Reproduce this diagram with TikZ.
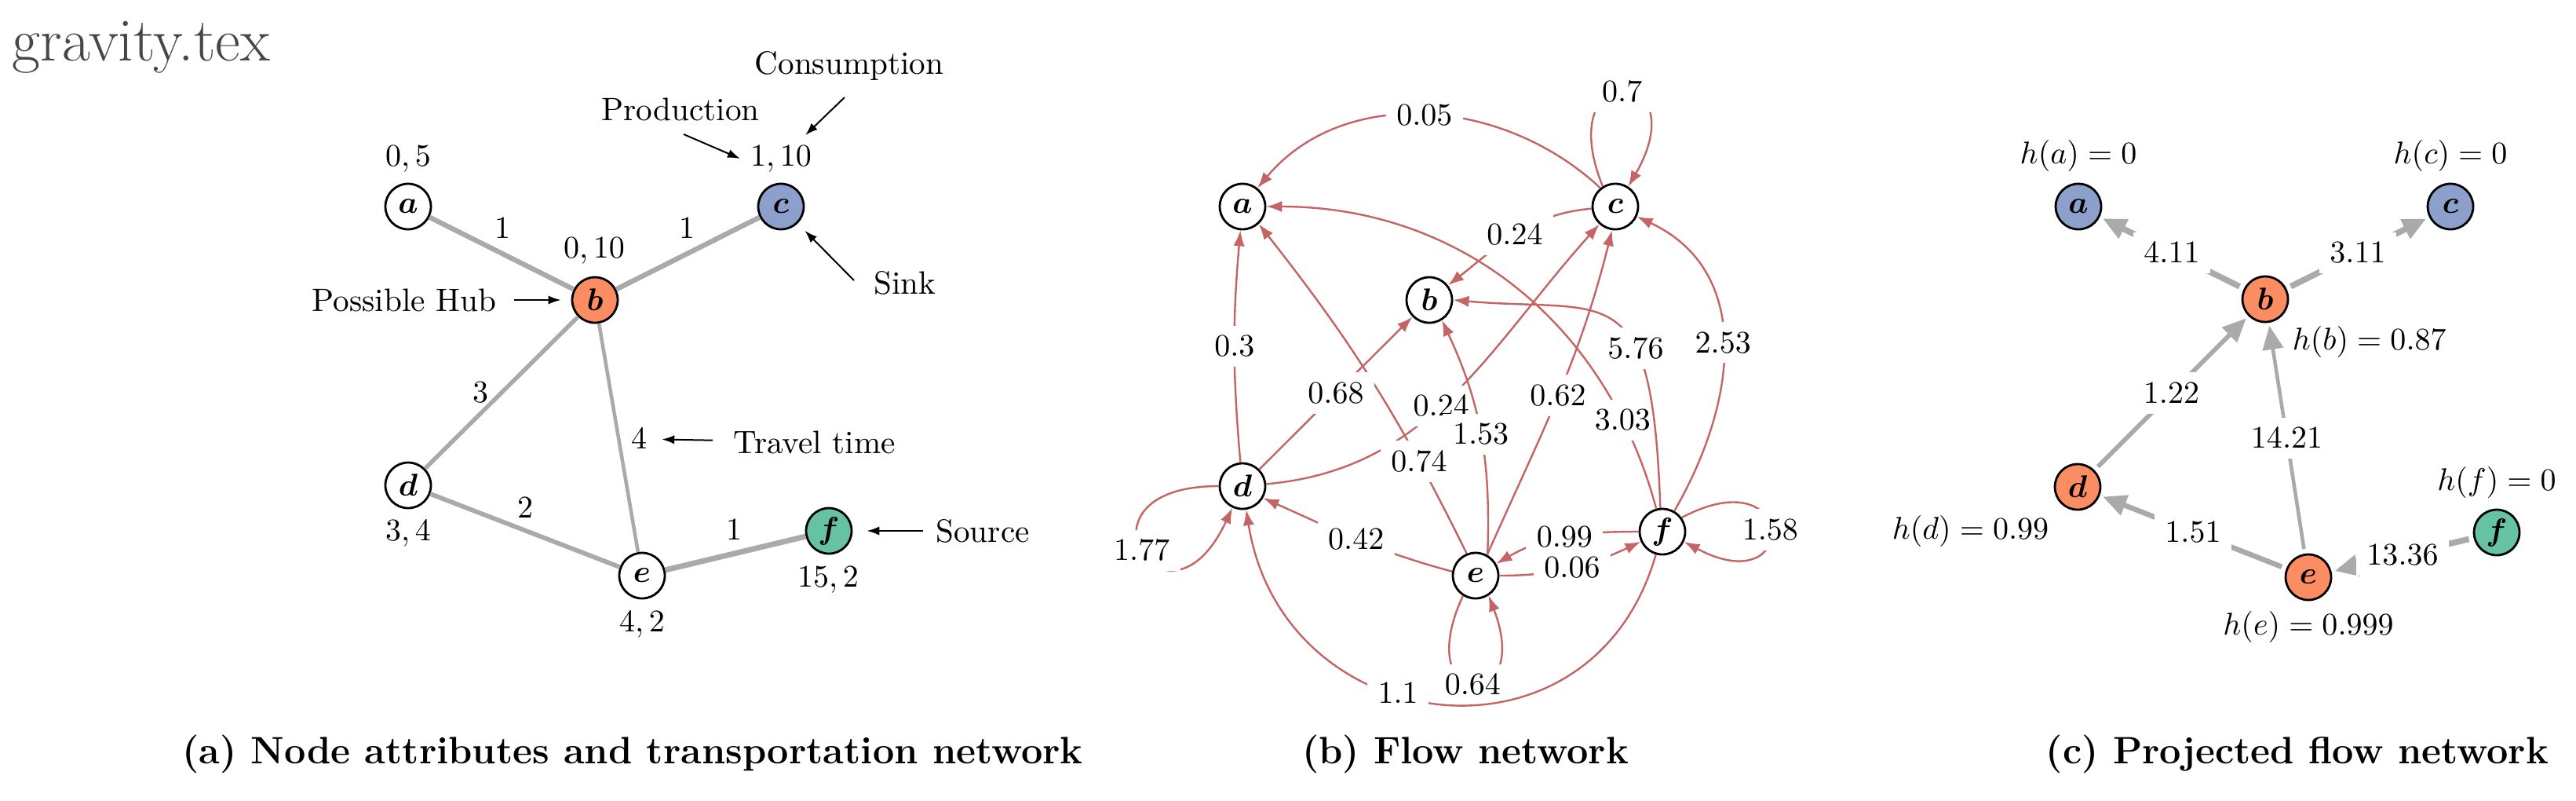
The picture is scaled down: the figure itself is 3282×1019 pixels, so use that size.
\documentclass[tikz,border=0pt]{standalone}
\usepackage{amsmath,bm}
\usetikzlibrary{arrows.meta}
\definecolor{hubor}{HTML}{FC8D62}
\definecolor{sinkbl}{HTML}{8DA0CB}
\definecolor{srcgr}{HTML}{66C2A5}
\definecolor{flowred}{RGB}{196,100,100}
\definecolor{tgray}{RGB}{170,170,170}
\begin{document}
\begin{tikzpicture}[x=0.25pt,y=0.25pt,
  vtx/.style={circle,draw=black,line width=0.7pt,minimum size=14.5pt,inner sep=0pt,fill=white,font=\fontsize{10.3}{12}\selectfont},
  txt/.style={inner sep=1pt,font=\fontsize{10.3}{12}\selectfont},
  elab/.style={fill=white,font=\fontsize{9.7}{11}\selectfont},
  tedge/.style={draw=tgray},
  fedge/.style={draw=flowred,line width=0.6pt,-{Latex[length=5pt,width=3.6pt]}},
  pedge/.style={draw=tgray,-{Triangle[length=7.5pt,width=6.5pt]},shorten >=1pt,shorten <=1.5pt},
  annot/.style={draw=black,line width=0.5pt,-{Latex[length=4pt,width=2.8pt]}},
  captxt/.style={font=\fontsize{12.15}{14}\selectfont\bfseries},
]
\useasboundingbox (0,0) rectangle (3282,-1019);
\fill[white] (0,0) rectangle (3282,-1019);

\node[anchor=base west,inner sep=0pt,text=black!72,font=\fontsize{19.5}{23}\selectfont] (title) at (15,-77) {gravity.tex};

% ---------------- panel (a) ----------------
\node[vtx] (aa) at (520,-263) {$\bm{a}$};
\node[vtx,fill=hubor] (ab) at (758,-382) {$\bm{b}$};
\node[vtx,fill=sinkbl] (ac) at (995,-263) {$\bm{c}$};
\node[vtx] (ad) at (520,-618) {$\bm{d}$};
\node[vtx] (ae) at (818,-733) {$\bm{e}$};
\node[vtx,fill=srcgr] (af) at (1056,-676) {$\bm{f}$};

\draw[tedge,line width=1.6pt] (aa) -- (ab);
\draw[tedge,line width=1.6pt] (ab) -- (ac);
\draw[tedge,line width=1.35pt] (ab) -- (ad);
\draw[tedge,line width=1.15pt] (ab) -- (ae);
\draw[tedge,line width=1.45pt] (ad) -- (ae);
\draw[tedge,line width=1.75pt] (ae) -- (af);

\node[txt] (lab) at (640,-291) {$1$};
\node[txt] (lbc) at (875,-291) {$1$};
\node[txt] (lbd) at (612,-500) {$3$};
\node[txt] (lbe) at (814,-559) {$4$};
\node[txt] (lde) at (669,-647) {$2$};
\node[txt] (lef) at (935,-675) {$1$};

\node[txt] (ata) at (520,-202) {$0,5$};
\node[txt] (atc) at (995,-202) {$1,10$};
\node[txt] (atb) at (757,-319) {$0,10$};
\node[txt] (atd) at (520,-679) {$3,4$};
\node[txt] (ate) at (818,-795) {$4,2$};
\node[txt] (atf) at (1055,-738) {$15,2$};

\node[txt] (tcons) at (1082,-84) {Consumption};
\node[txt] (tprod) at (867,-139) {Production};
\node[txt] (tsink) at (1153,-360) {Sink};
\node[txt] (thub) at (515,-382) {Possible Hub};
\node[txt] (ttravel) at (1038,-563) {Travel time};
\node[txt] (tsource) at (1252,-676) {Source};

\coordinate (consA) at (1076,-124);
\coordinate (prodA) at (871,-171);
\coordinate (prodB) at (943,-202);
\coordinate (sinkA) at (1088,-357);
\draw[annot,shorten >=3pt] (consA) -- (atc);
\draw[annot] (prodA) -- (prodB);
\draw[annot,shorten >=3.2pt] (sinkA) -- (ac);
\draw[annot,shorten <=4.6pt,shorten >=3.25pt] (thub) -- (ab);
\draw[annot,shorten <=5.5pt,shorten >=3.6pt] (ttravel) -- (lbe);
\draw[annot,shorten <=3pt,shorten >=4.5pt] (tsource) -- (af);

% ---------------- panel (b) ----------------
\node[vtx] (ba) at (1583,-263) {$\bm{a}$};
\node[vtx] (bb) at (1821,-382) {$\bm{b}$};
\node[vtx] (bc) at (2058,-263) {$\bm{c}$};
\node[vtx] (bd) at (1583,-619) {$\bm{d}$};
\node[vtx] (be) at (1880,-733) {$\bm{e}$};
\node[vtx] (bf) at (2118,-677) {$\bm{f}$};

\draw[fedge] (bc.129) to[out=137,in=50] node[elab]{$0.05$} (ba.51);
\draw[fedge] (bc.122) to[out=112,in=60,distance=45pt] node[elab]{$0.7$} (bc.57);
\draw[fedge] (bc.185) to[out=185,in=38] node[elab]{$0.24$} (bb.38);
\draw[fedge] (bd.5) to[out=5,in=228] node[elab,pos=0.46]{$0.24$} (bc.228);
\draw[fedge] (bd) to[bend left=5] node[elab]{$0.3$} (ba);
\draw[fedge] (be.112) to[bend right=6] node[elab,pos=0.25]{$0.74$} (ba.-47);
\draw[fedge] (bd) -- node[elab]{$0.68$} (bb);
\draw[fedge] (be.60) to[out=88,in=-65] node[elab]{$1.53$} (bb.-58);
\draw[fedge] (be.61) to[out=66,in=-104] node[elab]{$0.62$} (bc.-98);
\draw[fedge] (bf.105) to[out=105,in=0] node[elab,pos=0.17]{$3.03$} (ba.0);
\draw[fedge] (bf.95) to[out=92,in=-5,out distance=75pt,in distance=50pt] node[elab,pos=0.35]{$5.76$} (bb.0);
\draw[fedge] (bf.60) to[out=60,in=-25,looseness=1.1] node[elab]{$2.53$} (bc.-25);
\draw[fedge] (bd.180) to[out=180,in=-115,distance=50pt] node[elab]{$1.77$} (bd.-115);
\draw[fedge] (be.170) to[out=165,in=-24] node[elab]{$0.42$} (bd.-30);
\draw[fedge] (bf.180) to[out=180,in=30] node[elab]{$0.99$} (be.30);
\draw[fedge] (be.0) to[out=0,in=205] node[elab]{$0.06$} (bf.205);
\draw[fedge] (be.-122) to[out=-115,in=-69,distance=41pt] node[elab]{$0.64$} (be.-57);
\draw[fedge] (bf.-106) to[out=-106,in=-81,looseness=1.45] node[elab,pos=0.58]{$1.1$} (bd.-81);
\draw[fedge] (bf.36) to[out=28,in=-28,distance=42pt] node[elab]{$1.58$} (bf.-25);

% ---------------- panel (c) ----------------
\node[vtx,fill=sinkbl] (ca) at (2648,-263) {$\bm{a}$};
\node[vtx,fill=hubor] (cb) at (2886,-381) {$\bm{b}$};
\node[vtx,fill=sinkbl] (cc) at (3122,-263) {$\bm{c}$};
\node[vtx,fill=hubor] (cd) at (2647,-620) {$\bm{d}$};
\node[vtx,fill=hubor] (ce) at (2941,-735) {$\bm{e}$};
\node[vtx,fill=srcgr] (cf) at (3181,-678) {$\bm{f}$};

\draw[pedge,line width=1.9pt] (cb) -- node[elab]{$4.11$} (ca);
\draw[pedge,line width=1.9pt] (cb) -- node[elab]{$3.11$} (cc);
\draw[pedge,line width=1.4pt] (cd) -- node[elab]{$1.22$} (cb);
\draw[pedge,line width=1.15pt] (ce) -- node[elab]{$14.21$} (cb);
\draw[pedge,line width=1.65pt] (ce) -- node[elab]{$1.51$} (cd);
\draw[pedge,line width=1.9pt] (cf) -- node[elab]{$13.36$} (ce);

\node[txt] (ha) at (2648,-198) {$h(a)=0$};
\node[txt] (hc) at (3122,-198) {$h(c)=0$};
\node[txt,anchor=west] (hb) at (2916,-435) {$h(b)=0.87$};
\node[txt,anchor=east] (hd) at (2615,-676) {$h(d)=0.99$};
\node[txt] (he) at (2941,-798) {$h(e)=0.999$};
\node[txt] (hf) at (3181,-614) {$h(f)=0$};

% ---------------- captions ----------------
\node[captxt] (capa) at (806,-960) {(a) Node attributes and transportation network};
\node[captxt] (capb) at (1867,-960) {(b) Flow network};
\node[captxt] (capc) at (2927,-960) {(c) Projected flow network};
\end{tikzpicture}
\end{document}
